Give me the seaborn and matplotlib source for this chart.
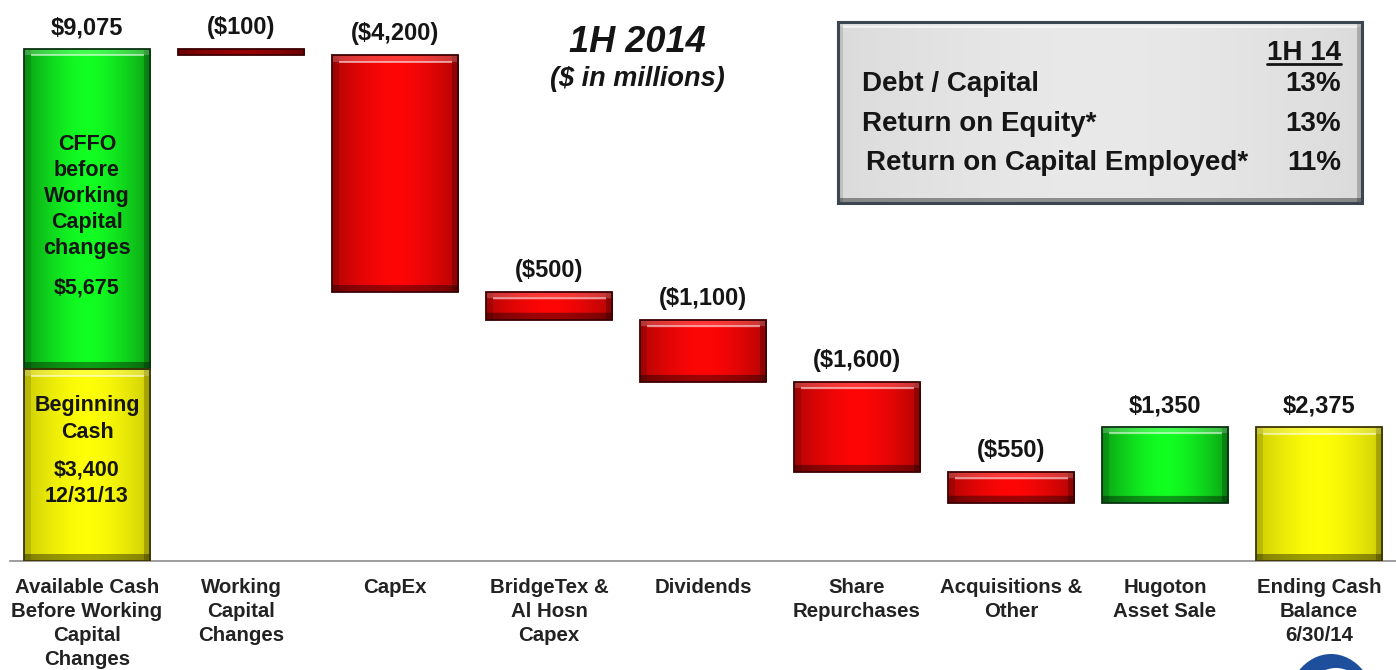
import numpy as np
import pandas as pd
import matplotlib
matplotlib.use("Agg")
import matplotlib.pyplot as plt
from matplotlib.colors import to_rgb
from matplotlib.patches import Rectangle, Ellipse
from matplotlib.lines import Line2D
import seaborn as sns

# ---- data ($ in millions) ----
categories = [
    "Available Cash\nBefore Working\nCapital\nChanges",
    "Working\nCapital\nChanges",
    "CapEx",
    "BridgeTex &\nAl Hosn\nCapex",
    "Dividends",
    "Share\nRepurchases",
    "Acquisitions &\nOther",
    "Hugoton\nAsset Sale",
    "Ending Cash\nBalance\n6/30/14",
]
beginning_cash = 3400
cffo_before_wc = 5675
changes = [-100, -4200, -500, -1100, -1600, -550, 1350]
ending_cash = 2375
value_labels = ["$9,075", "($100)", "($4,200)", "($500)", "($1,100)",
                "($1,600)", "($550)", "$1,350", "$2,375"]

metric_names = ["Debt / Capital", "Return on Equity*", "Return on Capital Employed*"]
metric_values = ["13%", "13%", "11%"]
metric_header = "1H 14"

# ---- waterfall geometry ----
available = beginning_cash + cffo_before_wc
levels = [available]
for c in changes:
    levels.append(levels[-1] + c)
bases = [beginning_cash]
heights = [cffo_before_wc]
for prev, c in zip(levels[:-1], changes):
    bases.append(min(prev, prev + c))
    heights.append(abs(c))
bases.append(0)
heights.append(ending_cash)

GREEN = "#12ff22"
YELLOW = "#ffff08"
RED = "#ff0606"
kinds = ["green"] + ["green" if c > 0 else "red" for c in changes] + ["yellow"]
base_colors = {"green": GREEN, "yellow": YELLOW, "red": RED}
edge_colors = {"green": "#0b3312", "yellow": "#3b3400", "red": "#3c0000"}
edge_shade = {"green": 0.62, "yellow": 0.80, "red": 0.70}

df = pd.DataFrame({"step": categories, "height": heights, "base": bases})

W_PX, H_PX = 1396, 670
sns.set_theme(style="white")
plt.rcParams["font.family"] = ["Liberation Sans", "DejaVu Sans"]
TXT = "#151515"

fig = plt.figure(figsize=(W_PX / 100, H_PX / 100), dpi=100)
fig.patch.set_facecolor("white")


def fx(px):
    return px / W_PX


def fy(py):
    return 1 - py / H_PX


ax = fig.add_axes([fx(10), fy(561), fx(1386), 561 / H_PX])
ax.set_facecolor("white")

sns.barplot(data=df, x="step", y="height", bottom=df["base"].to_numpy(),
            color=RED, saturation=1, width=0.82, errorbar=None, ax=ax,
            linewidth=0, zorder=2)
# beginning cash sits under the CFFO segment of the first column
ax.bar(0, beginning_cash, width=0.82, color=YELLOW, linewidth=0, zorder=2)

Y_MAX = 561 / (512 / available)
ax.set_xlim(-0.5, len(categories) - 0.5)
ax.set_ylim(0, Y_MAX)

patches = list(ax.patches)
bar_patches = patches[:len(categories)]
yellow_patch = patches[len(categories)]
styled = [(p, k) for p, k in zip(bar_patches, kinds)] + [(yellow_patch, "yellow")]


def bevel_image(color, wpx, hpx, shade_min, bevel=7):
    W = max(int(round(wpx)), 2)
    H = max(int(round(hpx)), 2)
    xs = np.arange(W) + 0.5
    ys = np.arange(H) + 0.5
    u = xs / W
    base = np.array(to_rgb(color))
    prof = shade_min + (1 - shade_min) * (1 - np.abs(2 * u - 1) ** 1.6)
    img = np.ones((H, W, 3)) * base[None, None, :] * prof[None, :, None]
    if H < 3 * bevel:
        # too thin for a bevel: plain darker strip
        return np.clip(img * 0.6, 0, 1)
    b = max(1.0, min(bevel, H / 3, W / 3))
    top = ys[:, None] < b
    bot = (H - ys)[:, None] < b
    left = xs[None, :] < b
    right = (W - xs)[None, :] < b
    img[np.broadcast_to(left, (H, W))] *= 0.88
    img[np.broadcast_to(right, (H, W))] *= 0.78
    img[np.broadcast_to(bot, (H, W))] *= 0.62
    tmask = np.broadcast_to(top, (H, W))
    img[tmask] = img[tmask] * 0.8 + 0.2
    hl = (np.abs(ys - b) < 1.0)[:, None] & ~left & ~right
    hl = np.broadcast_to(hl, (H, W))
    img[hl] = img[hl] * 0.45 + 0.55
    return np.clip(img, 0, 1)


fig.canvas.draw()
for p, kind in styled:
    x0, y0 = p.get_x(), p.get_y()
    w, h = p.get_width(), p.get_height()
    (px0, py0), (px1, py1) = ax.transData.transform([(x0, y0), (x0 + w, y0 + h)])
    img = bevel_image(base_colors[kind], px1 - px0, py1 - py0, edge_shade[kind])
    im = ax.imshow(img, extent=(x0, x0 + w, y0, y0 + h), origin="upper",
                   aspect="auto", interpolation="bilinear", zorder=3)
    im.set_clip_path(p)
    ax.add_patch(Rectangle((x0, y0), w, h, fill=False,
                           edgecolor=edge_colors[kind], linewidth=1.3, zorder=4))

ax.set_xlim(-0.5, len(categories) - 0.5)
ax.set_ylim(0, Y_MAX)

# axis styling
for s in ["left", "right", "top"]:
    ax.spines[s].set_visible(False)
ax.spines["bottom"].set_color("#8c8c8c")
ax.spines["bottom"].set_linewidth(1.2)
ax.set_yticks([])
ax.set_xlabel("")
ax.set_ylabel("")
ax.set_xticks(range(len(categories)))
ax.set_xticklabels(categories, fontsize=14.7, fontweight="bold", color="#222222",
                   linespacing=1.33)
ax.tick_params(axis="x", which="major", length=0, pad=12)
ax.set_xticks(np.arange(-0.5, len(categories), 1.0), minor=True)
ax.tick_params(axis="x", which="minor", length=6, width=1.2, color="#8c8c8c",
               direction="out")

# value labels above each step
tops = [available] + [b + h for b, h in zip(bases[1:], heights[1:])]
for i, (lab, t) in enumerate(zip(value_labels, tops)):
    ax.annotate(lab, xy=(i, t), xytext=(0, 7), textcoords="offset points",
                ha="center", va="bottom", fontsize=17, fontweight="bold",
                color=TXT, zorder=5)

# text inside the first column
inner = dict(ha="center", va="center", fontsize=15.5, fontweight="bold",
             color=TXT, linespacing=1.32, zorder=5)
ax.text(0, beginning_cash + cffo_before_wc * 0.54,
        "CFFO\nbefore\nWorking\nCapital\nchanges", **inner)
ax.text(0, beginning_cash + cffo_before_wc * 0.253,
        "$" + f"{cffo_before_wc:,}", **inner)
ax.text(0, beginning_cash * 0.74, "Beginning\nCash", **inner)
ax.text(0, beginning_cash * 0.405, "$" + f"{beginning_cash:,}" + "\n12/31/13",
        **inner)

# title
fig.text(fx(637), fy(42), "1H 2014", ha="center", va="center", fontsize=26,
         fontweight="bold", fontstyle="italic", color=TXT)
fig.text(fx(637), fy(79), "($ in millions)", ha="center", va="center",
         fontsize=19.5, fontweight="bold", fontstyle="italic", color=TXT)

# metrics panel
bx0, by0, bx1, by1 = 838, 22, 1362, 203
box_ax = fig.add_axes([fx(bx0), fy(by1), fx(bx1 - bx0), (by1 - by0) / H_PX])
box_img = bevel_image("#e9e9e9", bx1 - bx0, by1 - by0, 0.94, bevel=5)
box_ax.imshow(box_img, extent=(0, 1, 0, 1), aspect="auto", origin="upper",
              interpolation="bilinear")
box_ax.set_xlim(0, 1)
box_ax.set_ylim(0, 1)
box_ax.axis("off")
box_ax.add_patch(Rectangle((0, 0), 1, 1, fill=False, edgecolor="#3c4650",
                           linewidth=2.2, transform=box_ax.transAxes,
                           clip_on=False))

fig.text(fx(1341), fy(53), metric_header, ha="right", va="center",
         fontsize=20, fontweight="bold", color=TXT)
fig.add_artist(Line2D([fx(1267), fx(1341)], [fy(64), fy(64)], color=TXT,
                      linewidth=2, transform=fig.transFigure))
row_y = [84, 124, 163]
row_x = [862, 862, 866]
for name, val, yy, xx in zip(metric_names, metric_values, row_y, row_x):
    fig.text(fx(xx), fy(yy), name, ha="left", va="center", fontsize=20,
             fontweight="bold", color=TXT)
    fig.text(fx(1341), fy(yy), val, ha="right", va="center", fontsize=20,
             fontweight="bold", color=TXT)

# corner emblem
fig.add_artist(Ellipse((fx(1331), fy(712)), fx(92), 116 / H_PX,
                       facecolor="#1d4f9c", edgecolor="none",
                       transform=fig.transFigure))
fig.add_artist(Ellipse((fx(1336), fy(722)), fx(78), 108 / H_PX,
                       facecolor="white", edgecolor="none",
                       transform=fig.transFigure))

fig.savefig("out.png", dpi=100, facecolor="white")
